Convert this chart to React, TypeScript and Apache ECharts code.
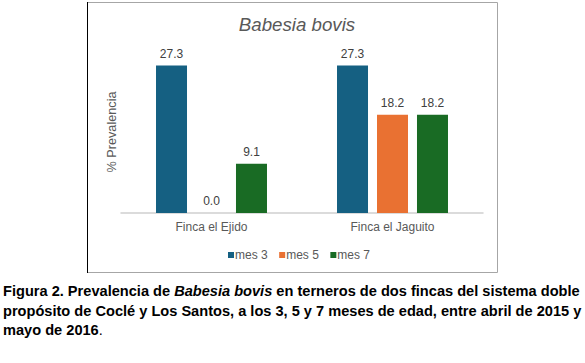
import React, { useEffect, useRef } from "react";
import * as echarts from "echarts";

const categories = ["Finca el Ejido", "Finca el Jaguito"];
const seriesNames = ["mes 3", "mes 5", "mes 7"];
const mes3 = [27.3, 27.3];
const mes5 = [0.0, 18.2];
const mes7 = [9.1, 18.2];
const seriesColors = ["#156082", "#E97132", "#196B24"];
const chartTitle = "Babesia bovis";
const yAxisName = "% Prevalencia";
const captionLine1 = ["Figura 2. Prevalencia de ", "Babesia bovis", " en terneros de dos fincas del sistema doble"];
const captionLine2 = "propósito de Coclé y Los Santos, a los 3, 5 y 7 meses de edad, entre abril de 2015 y";
const captionLine3 = ["mayo de 2016", "."];

const FONT = "'Liberation Sans', Arial, sans-serif";

export default function App() {
  const ref = useRef<HTMLDivElement>(null);
  useEffect(() => {
    if (!ref.current) return;
    const chart = echarts.init(ref.current, null, { renderer: "svg" });
    const values = [mes3, mes5, mes7];
    const captionRich = {
      b: { fontFamily: FONT, fontWeight: "bold", fontSize: 14.6, color: "#000" },
      bi: { fontFamily: FONT, fontWeight: "bold", fontStyle: "italic", fontSize: 14.6, color: "#000" },
      n: { fontFamily: FONT, fontWeight: "normal", fontSize: 14.6, color: "#000" },
    };
    chart.setOption({
      animation: false,
      backgroundColor: "#ffffff",
      textStyle: { fontFamily: FONT },
      title: {
        text: chartTitle,
        left: 292,
        top: 10,
        textAlign: "center",
        textStyle: { fontFamily: FONT, fontStyle: "italic", fontWeight: "normal", fontSize: 18.7, color: "#595959" },
      },
      legend: {
        data: seriesNames,
        left: 223,
        top: 244,
        icon: "rect",
        itemWidth: 6,
        itemHeight: 6,
        itemGap: 11.5,
        textStyle: { fontFamily: FONT, fontSize: 12, color: "#595959", padding: [0, 0, 0, -4] },
      },
      grid: { left: 121, right: 102, top: 51, bottom: 150 },
      xAxis: {
        type: "category",
        data: categories,
        axisLine: { show: true, lineStyle: { color: "#d0d0d0", width: 1.5 } },
        axisTick: { show: false },
        axisLabel: { fontFamily: FONT, fontSize: 12, color: "#595959", margin: 8 },
      },
      yAxis: {
        type: "value",
        min: 0,
        max: 30,
        name: yAxisName,
        nameLocation: "middle",
        nameGap: 3,
        nameTextStyle: { fontFamily: FONT, fontSize: 12.7, color: "#595959" },
        axisLine: { show: false },
        axisTick: { show: false },
        axisLabel: { show: false },
        splitLine: { show: false },
      },
      series: seriesNames.map((name, i) => ({
        name,
        type: "bar",
        data: values[i],
        barWidth: 31,
        barGap: "29%",
        itemStyle: { color: seriesColors[i] },
        label: {
          show: true,
          position: "top",
          distance: 6,
          fontFamily: FONT,
          fontSize: 12,
          color: "#404040",
          formatter: (p: any) => Number(p.value).toFixed(1),
        },
      })),
      graphic: [
        {
          type: "rect",
          shape: { x: 87.5, y: 2.5, width: 410, height: 270 },
          style: { fill: "none", stroke: "#a6a6a6", lineWidth: 1 },
          silent: true,
        },
        {
          type: "line",
          shape: { x1: 87.5, y1: 2, x2: 87.5, y2: 273 },
          style: { stroke: "#000000", lineWidth: 1 },
          silent: true,
        },
        {
          type: "text",
          x: 3,
          y: 291,
          style: {
            text: `{b|${captionLine1[0]}}{bi|${captionLine1[1]}}{b|${captionLine1[2]}}`,
            rich: captionRich,
            verticalAlign: "middle",
            align: "left",
          },
        },
        {
          type: "text",
          x: 3,
          y: 310.5,
          style: {
            text: `{b|${captionLine2}}`,
            rich: captionRich,
            verticalAlign: "middle",
            align: "left",
          },
        },
        {
          type: "text",
          x: 3,
          y: 330,
          style: {
            text: `{b|${captionLine3[0]}}{n|${captionLine3[1]}}`,
            rich: captionRich,
            verticalAlign: "middle",
            align: "left",
          },
        },
      ],
    });
    return () => chart.dispose();
  }, []);
  return (
    <div
      ref={ref}
      style={{ position: "absolute", left: 0, top: 0, width: 585, height: 363, background: "#fff" }}
    />
  );
}
